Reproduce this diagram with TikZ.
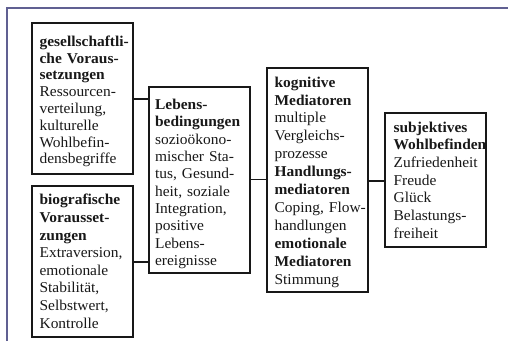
\documentclass[tikz,border=0pt]{standalone}
\usepackage{fontspec}
\setmainfont{Liberation Serif}[FakeStretch=1.03]
\usetikzlibrary{calc}
\hyphenpenalty=10000
\exhyphenpenalty=10000
\definecolor{framecol}{RGB}{96,96,146}
\definecolor{inkcol}{RGB}{24,24,24}
\tikzset{
  box/.style={draw=inkcol, line width=1.2pt, rectangle, minimum width=101pt, inner sep=0pt},
  txt/.style={anchor=north west, inner sep=0pt, text width=100pt, align=left, text=inkcol},
  link/.style={draw=inkcol, line width=1.2pt}
}
\newcommand{\bfs}[1]{\fontsize{15}{#1}\selectfont}
\begin{document}
\begin{tikzpicture}[x=1pt,y=-1pt]
\useasboundingbox (0,0) rectangle (508,341);
\fill[white] (0,0) rectangle (508,341);
\draw[framecol, line width=2pt] (7,341) -- (7,7.5) -- (508,7.5);

\node[box, minimum height=151pt] (b1) at (82.5,98.5) {};
\node[box, minimum height=151pt] (b2) at (82.5,261.5) {};
\node[box, minimum height=186pt] (b3) at (199.5,180) {};
\node[box, minimum height=224pt] (b4) at (317.5,180) {};
\node[box, minimum height=134pt] (b5) at (435.5,180) {};

\node[txt, font=\bfs{16.8}] (t1) at ($(b1.north west)+(8,13.2)$)
 {\textbf{gesellschaftli-}\\\textbf{che~Voraus-}\\\textbf{setzungen}\\Ressourcen-\\verteilung,\\kulturelle\\Wohlbefin-\\densbegriffe};
\node[txt, font=\bfs{17.6}] (t2) at ($(b2.north west)+(8,8.8)$)
 {\textbf{biografische}\\\textbf{Vorausset-}\\\textbf{zungen}\\Extraversion,\\emotionale\\Stabilität,\\Selbstwert,\\Kontrolle};
\node[txt, font=\bfs{17.3}] (t3) at ($(b3.north west)+(6.5,12.6)$)
 {\textbf{Lebens-}\\\textbf{bedingungen}\\sozioökono-\\mischer~Sta-\\tus,~Gesund-\\heit,~soziale\\Integration,\\positive\\Lebens-\\ereignisse};
\node[txt, font=\bfs{17.9}] (t4) at ($(b4.north west)+(8,9.1)$)
 {\textbf{kognitive}\\\textbf{Mediatoren}\\multiple\\Vergleichs-\\prozesse\\\textbf{Handlungs-}\\\textbf{mediatoren}\\Coping,~Flow-\\handlungen\\\textbf{emotionale}\\\textbf{Mediatoren}\\Stimmung};
\node[txt, font=\bfs{17.7}] (t5) at ($(b5.north west)+(9,9.1)$)
 {\textbf{subjektives}\\\textbf{Wohlbefinden}\\Zufriedenheit\\Freude\\Glück\\Belastungs-\\freiheit};

\coordinate (y1) at (0,99);
\coordinate (y2) at (0,262);
\coordinate (y3) at (0,179.5);
\coordinate (y4) at (0,181);
\draw[link] (b1.east |- y1) -- (b3.west |- y1);
\draw[link] (b2.east |- y2) -- (b3.west |- y2);
\draw[link] (b3.east |- y3) -- (b4.west |- y3);
\draw[link] (b4.east |- y4) -- (b5.west |- y4);
\end{tikzpicture}
\end{document}
